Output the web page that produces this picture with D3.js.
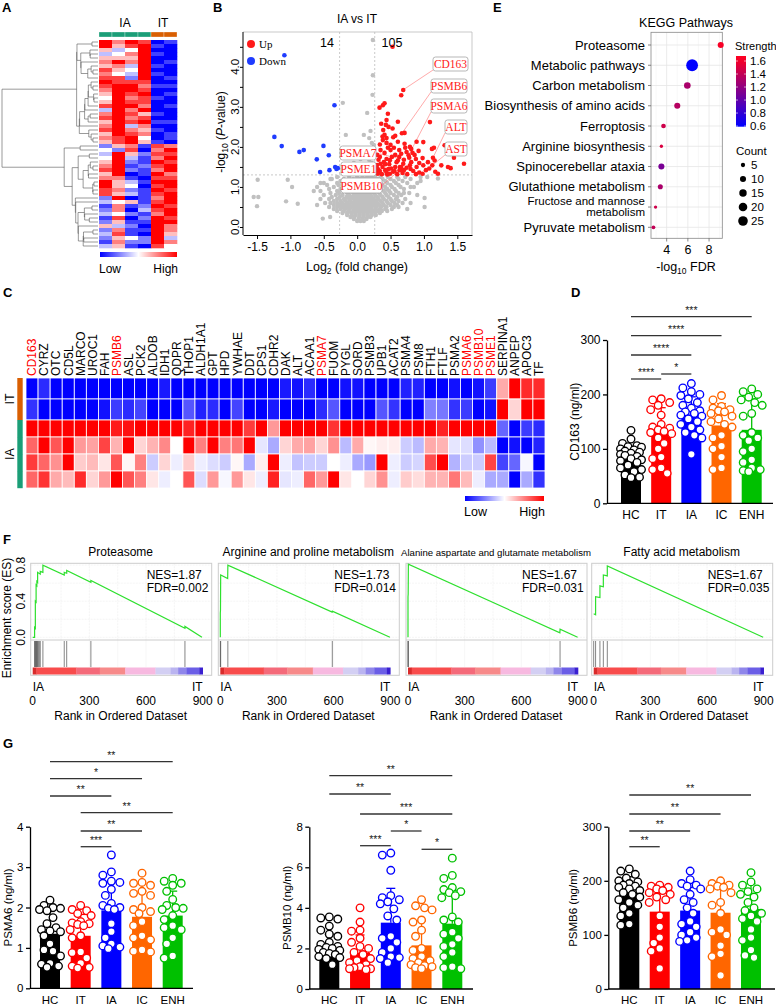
<!DOCTYPE html>
<html><head><meta charset="utf-8">
<script src="https://cdn.jsdelivr.net/npm/d3@7"></script>
<style>body{margin:0;background:#fff}svg{display:block}</style>
</head><body><svg id="c" width="776" height="1007"></svg>
<script>
// ================= DATA =================
// Panel A: clustered heatmap, each string = one row, 6 samples (0 = low/blue, 4 = mid/white, 8 = high/red)
const aRows = ["868701","857810","534800","346810","555800","686801","563810","754800","643810","772801",
"877700","788611","688700","587801","486710","587700","788601","386800","687510","786700",
"587811","683600","786510","587601","678401","578510",
"256176","427068","385277","483168","582187","681278","782168","580186","661077","853188",
"854078","762187","753178","280168","345178","161287","260378","342168","170287","251188",
"532086","261186","371085","254283","162286","351074"];
const aCols = ["IA","IA","IA","IA","IT","IT"];

// Panel B: volcano
const volcanoUp = [[0.53,4.5],[0.69,3.42],[0.66,3.29],[0.335,2.98],[0.385,3.04],[0.41,3.09],
[0.46,2.83],[0.44,2.67],[0.61,2.63],[1.09,2.62],[0.36,2.58],[0.43,2.55],[0.47,2.5],[0.53,2.46],[0.39,2.42],
[0.41,2.3],[0.44,2.22],[0.385,2.17],[0.54,2.24],[0.71,2.35],[0.67,2.34],[0.38,2.26],[0.57,2.28],
[0.34,2.06],[0.44,2.1],[0.61,2.13],[0.71,2.08],[0.89,2.13],[0.99,2.12],[1.31,2.04],[0.5,2.05],[0.55,1.98],[0.46,1.98],[0.72,1.98],[0.79,2.0],[0.81,1.95],[1.15,1.98],
[0.35,1.92],[0.41,1.85],[0.5,1.92],[0.63,1.92],[0.74,1.87],[0.83,1.85],[0.86,1.8],[0.92,1.9],[1.12,1.95],[0.66,1.83],[0.57,1.8],[0.77,1.79],
[0.34,1.75],[0.44,1.7],[0.63,1.75],[0.52,1.75],[0.49,1.67],[0.61,1.66],[0.7,1.68],[0.78,1.73],[0.88,1.7],[0.98,1.72],[1.135,1.73],[1.16,1.66],[1.45,1.73],[0.3,1.8],[0.32,1.68],
[0.35,1.58],[0.4,1.62],[0.42,1.57],[0.48,1.57],[0.59,1.62],[0.69,1.58],[0.81,1.62],[0.93,1.6],[1.06,1.62],[1.6,1.58],[0.3,1.55],
[0.38,1.5],[0.47,1.45],[0.51,1.46],[0.57,1.5],[0.64,1.5],[0.66,1.5],[0.74,1.48],[0.79,1.54],[0.8,1.45],[0.89,1.5],[0.99,1.54],[1.125,1.54],[1.26,1.54],[1.36,1.5],[1.4,1.47],[0.28,1.47],[0.31,1.45],[0.42,1.42],[0.635,1.42],
[0.34,1.4],[0.44,1.36],[0.54,1.38],[0.56,1.4],[0.65,1.43],[0.7,1.42],[0.68,1.35],[0.84,1.4],[0.93,1.36],[1.03,1.42],[1.08,1.46],[0.29,1.38],[0.31,1.33],[0.37,1.32],[0.45,1.31],[0.49,1.33],[0.6,1.32],[0.75,1.32],[0.88,1.32],[0.98,1.33],[1.17,1.38],[1.21,1.33]];
const volcanoDown = [[-1.09,4.29],[-0.34,3.04],[-1.24,2.25],[-1.13,2.02],[-0.865,1.875],[-0.8,1.92],[-0.505,2.025],
[-0.605,1.69],[-0.425,1.79],[-0.33,1.5],[-0.29,1.47],[-0.415,1.42],[-0.555,1.375],[-0.31,1.45]];
const volcanoGrayExtra = [[0.235,4.67],[0.235,3.79],[0.23,3.3],[-0.215,3.1],[0.15,2.85],[0.2,2.4],[0.1,2.3],[-0.17,2.3],[0.18,2.22],
[0.22,2.1],[0.25,2.05],[0.15,1.95],[0.2,1.9],[0.24,1.8],[0.12,1.75],[0.05,1.7],[0.18,1.68],[0.22,1.6],[-0.05,1.6],[0.1,1.55],
[0.2,1.52],[0.25,1.45],[0.15,1.45],[0.05,1.45],[-0.1,1.5],[0.0,1.38],[0.1,1.35],[0.2,1.38],[0.25,1.32],[-0.15,1.38],[-0.2,1.33],
[0.17,1.32],[0.06,1.32],
[-1.49,1.18],[-1.04,1.18],[-0.975,1.0],[-1.55,0.75],[-1.48,0.75],[-1.5,0.52],[-1.065,0.64],[-0.89,0.58],[-0.515,0.21],
[-0.405,0.25],[-0.6,0.55],[-0.65,0.9],[-0.5,1.1],[-0.38,1.2],
[1.21,1.21],[1.01,0.725],[1.01,0.5],[0.9,0.8],[0.85,1.0],[0.95,1.15],[1.05,1.25],[0.8,0.6],[0.75,0.45],[0.7,0.85]];
const volcanoGrayRows = [
[0.15,[0.0,0.05,0.1]],
[0.2,[-0.05,0.02,0.08,0.14]],
[0.25,[-0.1,-0.04,0.03,0.09,0.15,0.2]],
[0.3,[-0.15,-0.08,-0.02,0.04,0.1,0.16,0.22,0.28]],
[0.35,[-0.22,-0.15,-0.09,-0.03,0.03,0.09,0.15,0.21,0.27,0.34]],
[0.4,[-0.3,-0.2,-0.13,-0.06,0.0,0.06,0.12,0.18,0.24,0.3,0.37,0.45]],
[0.45,[-0.35,-0.25,-0.18,-0.11,-0.04,0.02,0.08,0.14,0.2,0.27,0.34,0.42,0.52]],
[0.5,[-0.42,-0.3,-0.22,-0.15,-0.08,-0.02,0.04,0.1,0.16,0.22,0.29,0.36,0.44,0.55,0.62]],
[0.55,[-0.35,-0.26,-0.18,-0.11,-0.04,0.02,0.08,0.14,0.2,0.26,0.33,0.4,0.5,0.6]],
[0.6,[-0.48,-0.4,-0.3,-0.22,-0.14,-0.07,0.0,0.06,0.12,0.18,0.24,0.3,0.38,0.46,0.56,0.68]],
[0.65,[-0.35,-0.25,-0.17,-0.1,-0.03,0.03,0.09,0.15,0.21,0.28,0.35,0.44,0.52,0.62]],
[0.7,[-0.55,-0.42,-0.3,-0.2,-0.12,-0.05,0.01,0.07,0.13,0.19,0.25,0.32,0.4,0.5,0.58,0.72]],
[0.75,[-0.38,-0.26,-0.16,-0.08,-0.02,0.04,0.1,0.16,0.22,0.3,0.38,0.47,0.6]],
[0.8,[-0.5,-0.32,-0.22,-0.12,-0.04,0.02,0.08,0.14,0.2,0.27,0.35,0.44,0.55,0.66]],
[0.85,[-0.4,-0.27,-0.15,-0.06,0.0,0.06,0.12,0.18,0.25,0.33,0.42,0.5,0.62,0.78]],
[0.9,[-0.55,-0.3,-0.2,-0.1,-0.02,0.05,0.11,0.17,0.23,0.3,0.4,0.48,0.58]],
[0.95,[-0.42,-0.25,-0.14,-0.05,0.02,0.08,0.14,0.2,0.27,0.36,0.45,0.56,0.7]],
[1.0,[-0.6,-0.35,-0.2,-0.08,0.0,0.07,0.13,0.19,0.25,0.33,0.42,0.52,0.65,0.8]],
[1.05,[-0.45,-0.28,-0.12,-0.02,0.05,0.11,0.17,0.23,0.3,0.38,0.5,0.62]],
[1.1,[-0.55,-0.3,-0.16,-0.05,0.03,0.1,0.16,0.22,0.28,0.35,0.45,0.58,0.75,0.9]],
[1.15,[-0.25,-0.1,0.0,0.07,0.14,0.2,0.26,0.33,0.42,0.55,0.68]],
[1.2,[-0.4,-0.2,-0.06,0.04,0.12,0.18,0.24,0.3,0.38,0.5,0.62,0.8]],
[1.25,[-0.3,-0.12,0.0,0.08,0.15,0.21,0.27,0.35,0.46,0.6,0.72,0.95]]];
const volcanoLabels = ["CD163","PSMB6","PSMA6","ALT","AST","PSMA7","PSME1","PSMB10"];
const volcanoLabelPoints = [[0.685,3.42],[0.675,2.35],[0.77,1.79],[1.135,1.73],[1.125,1.54],[0.7,1.68],[0.66,1.5],[0.635,1.42]];
const volcanoCounts = ["14","105"];
const volcanoTicksX = [-1.5,-1,-0.5,0,0.5,1,1.5];
const volcanoTicksY = [0,0.5,1,1.5,2,2.5,3,3.5,4,4.5];
const volcanoFC = 0.263, volcanoP = 1.301;

// Panel C
const cGenes = ["CD163","CYRZ","OTC","CD5L","MARCO","UROC1","FAH","PSMB6","ASL","PCK2","ALDOB","IDH1","QDPR","THOP1",
"ALDH1A1","GPT","HPD","YWHAE","DDT","CPS1","CDHR2","DAK","ALT","ACAA1","PSMA7","FUOM","PYGL","SORD","PSMB3","UPB1",
"ACAT2","PSMA4","PSM8","FTH1","FTLF","PSMA2","PSMA6","PSMB10","PSME1","SERPINA1","ANPEP","APOC3","TF"];
const cRedGenes = ["CD163","PSMB6","PSMA7","PSMA6","PSMB10","PSME1"];
const cRowGroups = ["IT","IT","IA","IA","IA","IA"];
const cIT1 = [-3,-2.5,-3,-3,-3,-3,-3,-3,-3,-3,-3,-2.7,-3,-3,-3,-3,-3,-3,-3,-3,-3,-2.7,-2.8,-2.5,-3,-3,-2.8,-2.8,-3,-3,-3,-2.6,-2.6,-3,-3,-2.8,-3,-2.8,-2.3,1,3,2.5,2.5];
const cIT2 = [-2.4,-3,-3,-3,-3,-3,-2.8,-2.3,-2.5,-2.2,-3,-3,-3,-2,-2.6,-2.5,-3,-2.2,-3,-3,-2.7,-3,-3,-3,-2.5,-2,-3,-3,-3,-2,-2.4,-3,-3,-1.5,-1.6,-2.4,-2.3,-3,-2.8,3,0.5,3,3];
const cIA1 = [3,3,3,3,3,3,3,2.7,2.8,3,3,3,3,2.6,3,3,3,3,2.3,3,1.2,3,3,3,3,2.4,3,3,3,3,3,3,3,3,2.6,3,3,3,3,-1.8,-3,-2.3,-2.5];
const cIA2 = [1.8,3,2,3,1.2,1.1,2.2,0.9,3,0.5,0.9,1.4,0,3,1.5,3,1.5,1.6,3,-0.3,-1,0.5,1,1.1,0.5,1.3,-0.8,1,0.1,0.2,0.2,-0.6,-0.8,1,0.9,-0.3,-0.4,-1.3,-0.8,-3,-2.8,-3,-2.6];
const cIA3 = [2.3,1.8,1.3,3,0.6,0.8,0.3,2,0.1,1.5,-0.6,0.5,-0.2,0.6,-0.2,-0.4,-0.6,0.1,-1,0.2,3,-0.2,-0.7,-0.6,-0.6,0,-0.2,-1,-1.2,3,-0.2,-0.6,-0.5,2.1,3,-0.9,-0.6,-0.6,2.2,-2.2,-1.8,-0.1,-3];
const cIA4 = [1.8,2.4,1,0.8,2.5,0.5,1.2,3,2,1.5,0.3,-0.2,0,2,-0.4,1.2,-0.1,1.2,0.3,-0.2,2.6,-0.3,-0.2,1.8,1.2,3,0.3,0,0.5,1.3,-0.2,0.6,0.4,0.9,0.9,1.6,0.8,-0.2,-1,-1,-3,-1,-2.4];

// Panel E
const keggTerms = ["Proteasome","Metabolic pathways","Carbon metabolism","Biosynthesis of amino acids","Ferroptosis",
"Arginine biosynthesis","Spinocerebellar ataxia","Glutathione metabolism","Fructose and mannose metabolism","Pyruvate metabolism"];
const keggFDR = [9.1,6.4,5.95,5.0,3.7,3.5,3.5,3.4,2.95,2.75];
const keggCount = [10,38,12,10,6,3,10,7,3,4];
const keggStrength = [1.62,0.6,1.3,1.35,1.45,1.5,1.1,1.3,1.45,1.4];
const keggXTicks = [4,6,8];
const strengthTicks = [0.6,0.8,1.0,1.2,1.4,1.6];
const countTicks = [5,10,15,20,25];

// Panel D / G
const groups = ["HC","IT","IA","IC","ENH"];
const groupColors = ["#000000","#ff0000","#0000ff","#ff6600","#00c000"];
const cd163Bars = [82,133,163,143,135];
const cd163Points = [
 [134,118,110,106,104,103,100,98,96,94,92,90,88,86,82,80,78,75,70,65,62,58,52,48,47],
 [192,190,185,180,172,162,145,140,138,135,132,130,128,120,110,100,85,82,65,62,55],
 [220,212,205,200,198,192,185,180,175,170,168,165,162,160,155,150,145,140,135,130,125,120,90],
 [198,190,178,175,172,170,168,165,160,155,150,145,140,125,120,105,100,85,65,62],
 [210,205,200,195,190,185,180,165,160,130,125,120,115,100,95,80,75,65,62,60,58]];
const cd163Sig = [["HC","ENH","***"],["HC","IC","****"],["HC","IA","****"],["HC","IT","****"],["IT","IA","*"]];
const psma6Bars = [1.35,1.3,1.93,1.77,1.8];
const psma6Points = [
 [2.18,2.05,2.0,1.98,1.95,1.92,1.75,1.6,1.5,1.45,1.42,1.4,1.3,1.1,0.95,0.92,0.8,0.62,0.6,0.55,0.52],
 [2.05,1.95,1.92,1.85,1.8,1.65,1.62,1.6,1.58,1.55,1.45,1.3,1.25,0.9,0.88,0.75,0.62,0.55,0.52,0.5],
 [3.3,2.88,2.8,2.65,2.62,2.6,2.45,2.3,2.1,2.05,2.0,1.98,1.95,1.6,1.4,1.25,1.1,1.05,1.02,0.98],
 [2.85,2.62,2.6,2.55,2.4,2.35,2.3,2.0,1.95,1.9,1.85,1.65,1.55,1.3,1.25,1.2,0.95,0.92,0.9],
 [2.72,2.65,2.6,2.55,2.4,2.2,2.05,2.0,1.98,1.95,1.8,1.7,1.55,1.5,1.45,1.25,1.1,0.8,0.75]];
const psma6Sig = [["HC","ENH","**"],["HC","IC","*"],["HC","IA","**"],["IT","ENH","**"],["IT","IC","**"],["IT","IA","***"]];
const psmb10Bars = [2.0,1.78,3.27,2.15,3.22];
const psmb10Points = [
 [3.55,3.5,3.45,3.1,2.9,2.7,2.6,2.3,2.2,2.1,2.05,2.0,1.95,1.9,1.8,1.75,1.7,1.6,1.55,1.5,1.2],
 [4.0,3.3,2.9,2.85,2.5,2.3,2.1,2.0,1.8,1.7,1.5,1.4,1.3,1.2,1.1,1.05,1.0,1.0,0.95],
 [6.7,6.6,5.85,4.6,4.5,4.4,4.3,4.2,3.95,3.6,3.4,2.6,2.5,2.3,2.0,1.8,1.6,1.55,1.5,1.3],
 [4.4,4.1,4.0,3.9,3.4,3.3,2.9,2.6,2.0,1.9,1.6,1.5,1.4,1.3,1.2,1.15,1.1,1.05,1.0],
 [6.45,5.6,5.45,5.0,4.9,4.8,4.75,4.6,4.5,3.55,3.4,3.3,2.8,2.7,2.5,2.2,2.1,1.8,1.6,1.1,1.05,1.0]];
const psmb10Sig = [["HC","ENH","**"],["HC","IA","**"],["IT","ENH","***"],["IA","IC","*"],["IT","IA","***"],["IC","ENH","*"]];
const psmb6Bars = [178,143,145,141,148];
const psmb6Points = [
 [222,218,212,205,200,198,195,192,190,188,185,182,178,175,170,165,160,155,150,140,135,120,118],
 [192,190,188,185,182,178,175,170,165,160,135,115,95,85,75,70,38],
 [218,202,195,192,190,185,175,165,160,150,140,125,120,115,105,100,95,90,88],
 [200,195,192,190,188,185,178,160,155,140,110,105,100,80,65,60,25],
 [215,198,192,185,180,175,170,160,150,145,140,135,130,125,110,95,90,72,62,58]];
const psmb6Sig = [["HC","ENH","**"],["HC","IC","**"],["HC","IA","**"],["HC","IT","**"]];

// Panel F: GSEA
const gseaTitles = ["Proteasome","Arginine and proline metabolism","Alanine aspartate and glutamate metabolism","Fatty acid metabolism"];
const gseaNES = ["1.87","1.73","1.67","1.67"];
const gseaFDR = ["0.002","0.014","0.031","0.035"];
const gseaCurve1 = [[0,0],[10,0],[10,0.11],[14,0.1],[14,0.4],[18,0.39],[18,0.58],[22,0.57],[22,0.62],[26,0.61],[26,0.72],[40,0.7],[40,0.73],[54,0.72],[54,0.8],[167,0.69],[167,0.72],[180,0.71],[180,0.74],[308,0.61],[308,0.63],[806,0.1],[806,0.12],[896,0.0]];
const gseaCurve2 = [[0,0],[0,0.27],[1,0.3],[2,0.69],[39,0.65],[40,0.8],[592,0.28],[593,0.29],[898,0.0]];
const gseaCurve3 = [[0,0],[0,0.45],[1,0.48],[2,0.81],[804,0.05],[805,0.09],[898,0.0]];
const gseaCurve4 = [[0,0.26],[10,0.25],[10,0.45],[33,0.44],[33,0.57],[51,0.56],[51,0.69],[72,0.68],[72,0.79],[897,0.0]];
const gseaHits1 = [10,12,14,16,18,20,22,24,26,30,35,40,54,167,180,308,806];
const gseaHits2 = [0,1,2,40,593];
const gseaHits3 = [0,1,2,805];
const gseaHits4 = [0,10,33,51,72];
const rankTicks = [0,300,600,900];
const esTicks = [0,0.4,0.8];
const rankBarStops = [0,20,230,355,490,650,730,770,815,882,900];
const rankBarColors = ["#d92b2b","#f84c4c","#f46a7a","#f78a8a","#f7b9e0","#d3cff3","#bab4f0","#8f86ea","#6b5ee6","#3a20d0"];

// ================= DRAW =================
const FONT = '"Liberation Sans", Arial, Helvetica, sans-serif';
const SERIF = '"Liberation Serif", "Times New Roman", serif';
const svg = d3.select("#c").style("font-family", FONT);

function text(g, x, y, s, size, anchor, extra) {
  const t = g.append("text").attr("x", x).attr("y", y).attr("font-size", size)
    .attr("text-anchor", anchor || "start").attr("fill", "#000").text(s);
  if (extra) extra(t);
  return t;
}
function rtext(g, x, y, s, size, anchor) {
  return g.append("text").attr("transform", `translate(${x},${y}) rotate(-90)`)
    .attr("font-size", size).attr("text-anchor", anchor || "middle").text(s);
}

[["A",2,12],["B",213,12],["E",493,12],["C",3,297],["D",571,297],["F",3,544],["G",3,748]].forEach(p=>{
  text(svg, p[1], p[2], p[0], 13, "start", t=>t.attr("font-weight","bold"));
});

// ---------- Panel A ----------
{
  const g = svg.append("g");
  const x = d3.scaleBand().domain(d3.range(aCols.length)).range([99,177]);
  const y = d3.scaleBand().domain(d3.range(aRows.length)).range([40,248]);
  const col = d3.scaleLinear().domain([0,4,8]).range(["#0000ff","#ffffff","#ff0000"]);
  aRows.forEach((s,r)=>{
    s.split("").forEach((v,c)=>{
      g.append("rect").attr("x",x(c)).attr("y",y(r)).attr("width",x.bandwidth()+0.3).attr("height",y.bandwidth()+0.3).attr("fill",col(+v));
    });
  });
  aCols.forEach((grp,c)=>{
    g.append("rect").attr("x",x(c)).attr("y",32).attr("width",x.bandwidth()).attr("height",5)
      .attr("fill", grp==="IA" ? "#1b9e77" : "#d95f02").attr("stroke","#fff").attr("stroke-width",0.3);
  });
  text(g,125,27,"IA",12,"middle");
  text(g,163,27,"IT",12,"middle");
  const defs = svg.append("defs");
  const lg = defs.append("linearGradient").attr("id","gA");
  lg.append("stop").attr("offset","0%").attr("stop-color","#0000ff");
  lg.append("stop").attr("offset","50%").attr("stop-color","#ffffff");
  lg.append("stop").attr("offset","100%").attr("stop-color","#ff0000");
  g.append("rect").attr("x",100).attr("y",252).attr("width",77).attr("height",5).attr("fill","url(#gA)");
  text(g,99,273,"Low",12,"start");
  text(g,178,273,"High",12,"end");
  const vec = aRows.map(s=>s.split("").map(Number));
  const dE = (a,b)=>Math.sqrt(d3.sum(a,(v,k)=>(v-b[k])**2));
  const cd = (A,B)=>{let s=0;for(const i of A.leaves)for(const j of B.leaves)s+=dE(vec[i],vec[j]);return s/(A.leaves.length*B.leaves.length);};
  let cl = vec.map((v,i)=>({leaves:[i],h:0,y:y(i)+y.bandwidth()/2,kids:null}));
  while(cl.length>1){
    let bi=0,bd=Infinity;
    for(let i=0;i<cl.length-1;i++){const d=cd(cl[i],cl[i+1]);if(d<bd){bd=d;bi=i;}}
    const A=cl[bi],B=cl[bi+1];
    cl.splice(bi,2,{leaves:A.leaves.concat(B.leaves),h:Math.max(bd,A.h,B.h)+0.05,y:(A.y+B.y)/2,kids:[A,B]});
  }
  const root = cl[0];
  const hx = d3.scalePow().exponent(1.6).domain([0,root.h]).range([98,2]);
  const dg = g.append("g").attr("stroke","#555").attr("stroke-width",0.6).attr("fill","none");
  (function walk(n){
    if(!n.kids) return;
    const [A,B]=n.kids;
    dg.append("path").attr("d",`M${hx(A.h)},${A.y}H${hx(n.h)}V${B.y}H${hx(B.h)}`);
    walk(A); walk(B);
  })(root);
}

// ---------- Panel B ----------
{
  const g = svg.append("g");
  const x = d3.scaleLinear().domain([-1.71,1.72]).range([243,472]);
  const y = d3.scaleLinear().domain([-0.2,4.87]).range([235,32]);
  g.append("path").attr("d",`M243,32H472V235`).attr("fill","none").attr("stroke","#bbb").attr("stroke-width",0.8);
  const dash = g.append("g").attr("stroke","#bbb").attr("stroke-width",0.8).attr("stroke-dasharray","2,2");
  dash.append("line").attr("x1",x(-volcanoFC)).attr("x2",x(-volcanoFC)).attr("y1",32).attr("y2",235);
  dash.append("line").attr("x1",x(volcanoFC)).attr("x2",x(volcanoFC)).attr("y1",32).attr("y2",235);
  dash.append("line").attr("x1",243).attr("x2",472).attr("y1",y(volcanoP)).attr("y2",y(volcanoP));
  const gray = [];
  volcanoGrayRows.forEach(([yy,xs])=>xs.forEach(xx=>gray.push([xx,yy])));
  volcanoGrayExtra.forEach(p=>gray.push(p));
  g.append("g").selectAll("circle").data(gray).join("circle")
    .attr("cx",d=>x(d[0])).attr("cy",d=>y(d[1])).attr("r",2.2).attr("fill","#c0c0c0");
  const boxes = [[433,57,35,14],[431,79,36,14],[431,99,36,14],[445,120,22,14],[445,142,22,14],[340,146,36,14],[341,162,35,14],[341,178,41,15]];
  volcanoLabels.forEach((lab,i)=>{
    const b = boxes[i], p = volcanoLabelPoints[i];
    const right = b[0] > 400;
    const sx = right ? b[0] : b[0]+b[2], sy = right ? b[1]+b[3]-1 : b[1]+b[3]/2;
    g.append("line").attr("x1",sx).attr("y1",sy).attr("x2",x(p[0])).attr("y2",y(p[1]))
      .attr("stroke","#ff7070").attr("stroke-width",0.6);
  });
  g.append("g").selectAll("circle").data(volcanoDown).join("circle")
    .attr("cx",d=>x(d[0])).attr("cy",d=>y(d[1])).attr("r",2.3).attr("fill","#1f3cff");
  g.append("g").selectAll("circle").data(volcanoUp).join("circle")
    .attr("cx",d=>x(d[0])).attr("cy",d=>y(d[1])).attr("r",2.3).attr("fill","#ff1a1a");
  volcanoLabels.forEach((lab,i)=>{
    const b = boxes[i];
    g.append("rect").attr("x",b[0]).attr("y",b[1]).attr("width",b[2]).attr("height",b[3]).attr("rx",2.5)
      .attr("fill","#fff").attr("stroke","#999").attr("stroke-width",0.7);
    g.append("text").attr("x",b[0]+b[2]/2).attr("y",b[1]+b[3]/2+4).attr("text-anchor","middle")
      .attr("font-family",SERIF).attr("font-size",11.5).attr("fill","#ff2020").text(lab);
  });
  const ax = g.append("g").attr("transform","translate(0,235)")
    .call(d3.axisBottom(x).tickValues(volcanoTicksX).tickSize(4).tickSizeOuter(0).tickFormat(d=>d.toFixed(1)));
  ax.selectAll("text").attr("font-size",12).attr("font-family",FONT);
  const ay = g.append("g").attr("transform","translate(243,0)")
    .call(d3.axisLeft(y).tickValues(volcanoTicksY).tickSize(3).tickSizeOuter(0).tickFormat(""));
  ay.select(".domain").attr("d","M0,32V235");
  volcanoTicksY.filter(v=>Number.isInteger(v)).forEach(v=>rtext(g,238.5,y(v),v.toFixed(1),11.5));
  text(g,357,23,"IA vs IT",12,"middle");
  text(g,327,47,volcanoCounts[0],12.5,"middle");
  text(g,392,47,volcanoCounts[1],12.5,"middle");
  g.append("circle").attr("cx",251).attr("cy",44).attr("r",4).attr("fill","#ff1a1a");
  g.append("circle").attr("cx",251).attr("cy",61).attr("r",4).attr("fill","#1f3cff");
  g.append("text").attr("x",259).attr("y",48).attr("font-family",SERIF).attr("font-size",11).text("Up");
  g.append("text").attr("x",259).attr("y",65).attr("font-family",SERIF).attr("font-size",11).text("Down");
  const xt = text(g,357,271,"Log",12.5,"middle");
  xt.append("tspan").attr("font-size",8.5).attr("dy",3).text("2");
  xt.append("tspan").attr("dy",-3).text(" (fold change)");
  const yt = g.append("text").attr("transform","translate(225,132) rotate(-90)").attr("text-anchor","middle").attr("font-size",12);
  yt.append("tspan").text("-log");
  yt.append("tspan").attr("font-size",8.5).attr("dy",3).text("10");
  yt.append("tspan").attr("dy",-3).text(" (");
  yt.append("tspan").attr("font-style","italic").text("P");
  yt.append("tspan").text("-value)");
}

// ---------- Panel E ----------
{
  const g = svg.append("g");
  const x = d3.scaleLinear().domain([2.52,9.25]).range([651,722.3]);
  const y = d3.scalePoint().domain(keggTerms).range([45,227.3]);
  const col = d3.scaleLinear().domain([0.6,1.65]).range(["#0000ff","#ff0020"]).clamp(true);
  const rs = d3.scaleSqrt().domain([0,25]).range([0,4.8]);
  [3,5,7,9].forEach(v=>g.append("line").attr("x1",x(v)).attr("x2",x(v)).attr("y1",32.3).attr("y2",238.3).attr("stroke","#f3f3f3").attr("stroke-width",0.6));
  keggXTicks.forEach(v=>g.append("line").attr("x1",x(v)).attr("x2",x(v)).attr("y1",32.3).attr("y2",238.3).attr("stroke","#e6e6e6").attr("stroke-width",0.8));
  keggTerms.forEach(t=>g.append("line").attr("x1",651).attr("x2",722.3).attr("y1",y(t)).attr("y2",y(t)).attr("stroke","#e6e6e6").attr("stroke-width",0.8));
  g.append("rect").attr("x",651).attr("y",32.3).attr("width",71.3).attr("height",206).attr("fill","none").attr("stroke","#888").attr("stroke-width",0.8);
  keggTerms.forEach((t,i)=>{
    g.append("circle").attr("cx",x(keggFDR[i])).attr("cy",y(t)).attr("r",rs(keggCount[i])).attr("fill",col(keggStrength[i]));
    g.append("line").attr("x1",648).attr("x2",651).attr("y1",y(t)).attr("y2",y(t)).attr("stroke","#555").attr("stroke-width",0.7);
    if (t === "Fructose and mannose metabolism") {
      text(g,645,y(t)-2.5,"Fructose and mannose",11.5,"end");
      text(g,645,y(t)+9,"metabolism",11.5,"end");
    } else text(g,645,y(t)+4.5,t,13,"end");
  });
  keggXTicks.forEach(v=>{
    g.append("line").attr("x1",x(v)).attr("x2",x(v)).attr("y1",238.3).attr("y2",241.5).attr("stroke","#555").attr("stroke-width",0.7);
    text(g,x(v),254,String(v),12.5,"middle");
  });
  text(g,686,27,"KEGG Pathways",12.5,"middle");
  const xt = text(g,686,271,"-log",12.5,"middle");
  xt.append("tspan").attr("font-size",8.5).attr("dy",3).text("10");
  xt.append("tspan").attr("dy",-3).text(" FDR");
  text(g,735,50,"Strength",11,"start");
  const sy = d3.scaleLinear().domain([0.59,1.677]).range([126.7,56]);
  const defs = svg.append("defs");
  const lg = defs.append("linearGradient").attr("id","gE").attr("x1",0).attr("y1",1).attr("x2",0).attr("y2",0);
  d3.range(0,1.01,0.1).forEach(f=>lg.append("stop").attr("offset",(f*100)+"%").attr("stop-color",col(0.59+f*(1.677-0.59))));
  g.append("rect").attr("x",736).attr("y",56).attr("width",10).attr("height",70.7).attr("fill","url(#gE)");
  strengthTicks.forEach(v=>{
    g.append("line").attr("x1",736).attr("x2",738).attr("y1",sy(v)).attr("y2",sy(v)).attr("stroke","#fff").attr("stroke-width",0.6);
    g.append("line").attr("x1",744).attr("x2",746).attr("y1",sy(v)).attr("y2",sy(v)).attr("stroke","#fff").attr("stroke-width",0.6);
    text(g,750,sy(v)+4,v.toFixed(1),11.5,"start");
  });
  text(g,736,155,"Count",11.5,"start");
  const cy = d3.scalePoint().domain(countTicks).range([165,221]);
  countTicks.forEach(v=>{
    g.append("circle").attr("cx",743).attr("cy",cy(v)).attr("r",rs(v)).attr("fill","#000");
    text(g,751,cy(v)+4,String(v),11.5,"start");
  });
}

// ---------- Panel C ----------
{
  const g = svg.append("g");
  const x = d3.scaleBand().domain(cGenes).range([26,545]);
  const rowEdges = [378,399,420,437,454,471,488];
  const rows = [cIT1,cIT2,cIA1,cIA2,cIA3,cIA4];
  const col = d3.scaleLinear().domain([-3,0,3]).range(["#0000ff","#ffffff","#ff0000"]).clamp(true);
  rows.forEach((vals,r)=>{
    vals.forEach((v,c)=>{
      g.append("rect").attr("x",x(cGenes[c])).attr("y",rowEdges[r]).attr("width",x.bandwidth()).attr("height",rowEdges[r+1]-rowEdges[r])
        .attr("fill",col(v)).attr("stroke","#fff").attr("stroke-width",0.8);
    });
  });
  cGenes.forEach(gn=>{
    g.append("text").attr("transform",`translate(${x(gn)+x.bandwidth()/2+4.3},376) rotate(-90)`)
      .attr("font-size",12).attr("fill",cRedGenes.includes(gn)?"#ff0000":"#000").text(gn);
  });
  cRowGroups.forEach((grp,r)=>{
    g.append("rect").attr("x",17.3).attr("y",rowEdges[r]).attr("width",5.4).attr("height",rowEdges[r+1]-rowEdges[r]+0.2)
      .attr("fill",grp==="IT"?"#d95f02":"#1b9e77");
  });
  rtext(g,13.5,399,"IT",12.5);
  rtext(g,13.5,454,"IA",12.5);
  const defs = svg.append("defs");
  const lg = defs.append("linearGradient").attr("id","gC");
  lg.append("stop").attr("offset","0%").attr("stop-color","#0000ff");
  lg.append("stop").attr("offset","50%").attr("stop-color","#ffffff");
  lg.append("stop").attr("offset","100%").attr("stop-color","#ff0000");
  g.append("rect").attr("x",465).attr("y",496).attr("width",79).attr("height",5).attr("fill","url(#gC)");
  text(g,464,516,"Low",12.5,"start");
  text(g,545,516,"High",12.5,"end");
}

// ---------- Bar panels (D, G) ----------
function dodge(vals, y, r, maxOff){
  const items = vals.map(v=>({v,py:y(v),dx:0})).sort((a,b)=>a.py-b.py);
  const placed = [];
  const cands = [0,-3,3,-6,6,-8.5,8.5,-10.5,10.5].filter(c=>Math.abs(c)<=maxOff);
  for (const it of items){
    let best=0, bestScore=-1;
    for (const c of cands){
      let m = Infinity;
      for (const p of placed){ const d=Math.hypot(c-p.dx,it.py-p.py); if(d<m) m=d; }
      if (m >= 2*r){ best=c; bestScore=Infinity; break; }
      if (m > bestScore){ bestScore=m; best=c; }
    }
    it.dx = best; placed.push(it);
  }
  return items;
}
function barPanel(cfg, bars, points, sigs){
  const g = svg.append("g");
  const x = d3.scalePoint().domain(groups).range(cfg.cx);
  const y = d3.scaleLinear().domain(cfg.dom).range(cfg.yr);
  const bw = 20;
  groups.forEach((grp,i)=>{
    const c = groupColors[i];
    g.append("rect").attr("x",x(grp)-bw/2).attr("y",y(bars[i])).attr("width",bw).attr("height",y(0)-y(bars[i])).attr("fill",c);
    const sd = d3.deviation(points[i]);
    const top = y(bars[i]+sd);
    g.append("line").attr("x1",x(grp)).attr("x2",x(grp)).attr("y1",y(bars[i])).attr("y2",top).attr("stroke",c).attr("stroke-width",1.3);
    g.append("line").attr("x1",x(grp)-4.5).attr("x2",x(grp)+4.5).attr("y1",top).attr("y2",top).attr("stroke",c).attr("stroke-width",1.3);
    const pts = dodge(points[i], y, 3.9, 10.5);
    g.append("g").selectAll("circle").data(pts).join("circle")
      .attr("cx",d=>x(grp)+d.dx).attr("cy",d=>d.py).attr("r",3.8)
      .attr("fill","#fff").attr("stroke",c).attr("stroke-width",1.35);
  });
  const ay = g.append("g").attr("transform",`translate(${cfg.ax},0)`)
    .call(d3.axisLeft(y).tickValues(cfg.ticks).tickSize(4).tickPadding(2.5).tickSizeOuter(0).tickFormat(d=>String(d)));
  ay.selectAll("path,line").attr("stroke","#000").attr("stroke-width",1.3);
  ay.selectAll("text").attr("font-size",cfg.fs).attr("font-family",FONT).attr("fill","#000");
  g.append("line").attr("x1",cfg.ax).attr("x2",cfg.xEnd).attr("y1",y(0)).attr("y2",y(0)).attr("stroke","#000").attr("stroke-width",1.3);
  groups.forEach(grp=>text(g,x(grp),cfg.labY,grp,cfg.fs,"middle"));
  g.append("text").attr("transform",`translate(${cfg.titleX},${(cfg.yr[0]+cfg.yr[1])/2}) rotate(-90)`)
    .attr("text-anchor","middle").attr("dy","0.35em").attr("font-size",cfg.fs).text(cfg.title);
  sigs.forEach((s,k)=>{
    const ly = cfg.sigY[k];
    g.append("line").attr("x1",x(s[0])).attr("x2",x(s[1])).attr("y1",ly).attr("y2",ly).attr("stroke","#333").attr("stroke-width",1.3);
    text(g,(x(s[0])+x(s[1]))/2,ly-3,s[2],10.5,"middle",t=>t.attr("fill","#222"));
  });
}
barPanel({cx:[631,751.7],ax:607,xEnd:773,dom:[0,300],yr:[503.3,340],ticks:[0,100,200,300],labY:518.5,titleX:575,title:"CD163 (ng/ml)",fs:12,
  sigY:[316.7,335.7,355,379,374]}, cd163Bars, cd163Points, cd163Sig);
barPanel({cx:[50,172.7],ax:30,xEnd:193,dom:[0,4],yr:[988.3,826.7],ticks:[0,1,2,3,4],labY:1004,titleX:8,title:"PSMA6 (ng/ml)",fs:11.5,
  sigY:[761.7,778.7,796,812.7,831,846.7]}, psma6Bars, psma6Points, psma6Sig);
barPanel({cx:[329.3,452.3],ax:309.3,xEnd:473,dom:[0,8],yr:[989,826.7],ticks:[0,2,4,6,8],labY:1004,titleX:287,title:"PSMB10 (ng/ml)",fs:11.5,
  sigY:[775.7,794,814,831,845.7,849.3]}, psmb10Bars, psmb10Points, psmb10Sig);
barPanel({cx:[629.3,751],ax:608.3,xEnd:775,dom:[0,300],yr:[989,826.7],ticks:[0,100,200,300],labY:1004,titleX:573,title:"PSMB6 (ng/ml)",fs:11.5,
  sigY:[795,814,831,846.7]}, psmb6Bars, psmb6Points, psmb6Sig);

// ---------- Panel F ----------
{
  const lefts = [30.7,218.3,406,591.7];
  const curves = [gseaCurve1,gseaCurve2,gseaCurve3,gseaCurve4];
  const hits = [gseaHits1,gseaHits2,gseaHits3,gseaHits4];
  lefts.forEach((L,i)=>{
    const g = svg.append("g");
    const x = d3.scaleLinear().domain([0,900]).range([L+2,L+172]);
    const y = d3.scaleLinear().domain([-0.03,0.82]).range([640,563.3]);
    [150,300,450,600,750].forEach(v=>g.append("line").attr("x1",x(v)).attr("x2",x(v)).attr("y1",563.3).attr("y2",640).attr("stroke","#eee").attr("stroke-width",0.6).attr("stroke-dasharray","2,1"));
    [0,0.2,0.4,0.6,0.8].forEach(v=>g.append("line").attr("x1",L).attr("x2",L+181).attr("y1",y(v)).attr("y2",y(v)).attr("stroke","#eee").attr("stroke-width",0.6).attr("stroke-dasharray","2,1"));
    [150,300,450,600,750].forEach(v=>g.append("line").attr("x1",x(v)).attr("x2",x(v)).attr("y1",640).attr("y2",667).attr("stroke","#f2f2f2").attr("stroke-width",0.6));
    g.append("rect").attr("x",L).attr("y",563.3).attr("width",181).attr("height",112).attr("fill","none").attr("stroke","#ccc").attr("stroke-width",1);
    g.append("line").attr("x1",L).attr("x2",L+181).attr("y1",640).attr("y2",640).attr("stroke","#ccc").attr("stroke-width",1);
    hits[i].forEach(h=>g.append("line").attr("x1",x(h)).attr("x2",x(h)).attr("y1",641).attr("y2",667).attr("stroke","#666").attr("stroke-width",0.8));
    for (let k=0;k<rankBarColors.length;k++){
      g.append("rect").attr("x",x(rankBarStops[k])).attr("y",667.5).attr("width",x(rankBarStops[k+1])-x(rankBarStops[k])+0.3).attr("height",7)
        .attr("fill",rankBarColors[k]);
    }
    g.append("path").attr("d",d3.line().x(d=>x(d[0])).y(d=>y(d[1]))(curves[i]))
      .attr("fill","none").attr("stroke","#2ee02e").attr("stroke-width",1.2);
    text(g,L+116,578.5,"NES="+gseaNES[i],12,"start");
    text(g,L+116,592,"FDR="+gseaFDR[i],12,"start");
    text(g,x(0),690.5,"IA",12,"start");
    text(g,x(900),690.5,"IT",12,"end");
    rankTicks.forEach(v=>text(g,x(v),704.5,String(v),12,"middle"));
    text(g,L+90,719.5,"Rank in Ordered Dataset",12,"middle");
    text(g,L+90,556,gseaTitles[i], i===2 ? 9.6 : 12,"middle");
    if (i===0){
      esTicks.forEach(v=>rtext(g,24.5,y(v),v.toFixed(1),12));
      rtext(g,10.5,618,"Enrichment score (ES)",12);
    }
  });
}
</script></body></html>
